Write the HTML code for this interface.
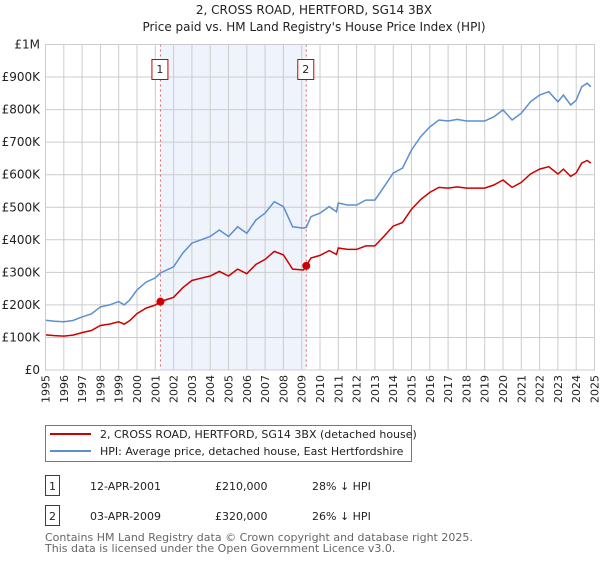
<!DOCTYPE html>
<html><head><meta charset="utf-8"><style>
body{margin:0;background:#fff;font-family:"DejaVu Sans","Liberation Sans",sans-serif;}
svg text{font-family:"DejaVu Sans","Liberation Sans",sans-serif;fill:#222;}
</style></head><body>
<svg id="c" width="600" height="560" xmlns="http://www.w3.org/2000/svg">
<text x="314" y="14" font-size="12" text-anchor="middle">2, CROSS ROAD, HERTFORD, SG14 3BX</text>
<text x="314" y="31" font-size="12" text-anchor="middle">Price paid vs. HM Land Registry's House Price Index (HPI)</text>
<g id="plot"></g>
<g>
<rect x="45.5" y="425.5" width="366" height="36" fill="#fff" stroke="#777"/>
<line x1="50" y1="434" x2="91" y2="434" stroke="#cc0000" stroke-width="2"/>
<text x="100" y="438" font-size="11">2, CROSS ROAD, HERTFORD, SG14 3BX (detached house)</text>
<line x1="50" y1="451" x2="91" y2="451" stroke="#5b8fd0" stroke-width="2"/>
<text x="100" y="455" font-size="11">HPI: Average price, detached house, East Hertfordshire</text>
</g>
<g>
<rect x="45.5" y="475.5" width="14" height="20" fill="#fff" stroke="#cc0000"/>
<text x="52.5" y="490" font-size="11" text-anchor="middle">1</text>
<text x="90" y="490" font-size="11">12-APR-2001</text>
<text x="215" y="490" font-size="11">£210,000</text>
<text x="312" y="490" font-size="11">28% ↓ HPI</text>
<rect x="45.5" y="505.5" width="14" height="20" fill="#fff" stroke="#cc0000"/>
<text x="52.5" y="520" font-size="11" text-anchor="middle">2</text>
<text x="90" y="520" font-size="11">03-APR-2009</text>
<text x="215" y="520" font-size="11">£320,000</text>
<text x="312" y="520" font-size="11">26% ↓ HPI</text>
</g>
<text x="45" y="541" font-size="11" style="fill:#666">Contains HM Land Registry data © Crown copyright and database right 2025.</text>
<text x="45" y="552" font-size="11" style="fill:#666">This data is licensed under the Open Government Licence v3.0.</text>
</svg>
<script>
const hpiYears=[1995,1995.5,1996,1996.5,1997,1997.5,1998,1998.5,1999,1999.3,1999.6,2000,2000.5,2001,2001.28,2002,2002.5,2003,2003.5,2004,2004.5,2005,2005.5,2006,2006.5,2007,2007.5,2008,2008.5,2009.1,2009.25,2009.5,2010,2010.5,2010.9,2011,2011.5,2012,2012.5,2013,2013.5,2014,2014.5,2015,2015.5,2016,2016.5,2017,2017.5,2018,2018.5,2019,2019.5,2020,2020.5,2021,2021.5,2022,2022.5,2023,2023.3,2023.7,2024,2024.3,2024.6,2024.8];
const hpiValues=[153,150,148,152,163,172,194,200,210,200,215,246,270,283,298,317,359,390,400,410,430,410,440,420,461,482,517,502,440,436,438,471,482,502,486,513,507,507,522,522,563,605,620,676,717,747,768,765,770,765,765,765,778,799,768,789,824,845,855,824,845,814,829,870,881,870];
const saleYears=[2001.28,2009.25];
const salePrices=[210,320];
const yTicks=[0,100,200,300,400,500,600,700,800,900,1000];
const yTickLabels=["£0","£100K","£200K","£300K","£400K","£500K","£600K","£700K","£800K","£900K","£1M"];
const xTicks=[1995,1996,1997,1998,1999,2000,2001,2002,2003,2004,2005,2006,2007,2008,2009,2010,2011,2012,2013,2014,2015,2016,2017,2018,2019,2020,2021,2022,2023,2024,2025];

const X0=45.5,X1=594.5,Y0=370,Y1=44.5;
const sx=v=>X0+(v-1995)/30*(X1-X0);
const sy=v=>Y0-v/1000*(Y0-Y1);
const NS="http://www.w3.org/2000/svg";
const g=document.getElementById('plot');
function mk(t,a){const e=document.createElementNS(NS,t);for(const k in a)e.setAttribute(k,a[k]);g.appendChild(e);return e;}
function hpiAt(y){for(let i=0;i<hpiYears.length-1;i++){if(y>=hpiYears[i]&&y<=hpiYears[i+1]){const t=(y-hpiYears[i])/(hpiYears[i+1]-hpiYears[i]);return hpiValues[i]+t*(hpiValues[i+1]-hpiValues[i]);}}return hpiValues[hpiValues.length-1];}

let r=mk('rect',{x:sx(saleYears[0]),y:Y1,width:sx(saleYears[1])-sx(saleYears[0]),height:Y0-Y1,fill:'#eef3fc'});


yTicks.forEach((v,i)=>{
 let l=mk('line',{x1:X0,x2:X1,y1:sy(v),y2:sy(v),stroke:'#cccccc','stroke-width':1});
 
 
 let t=mk('text',{x:40,y:sy(v)+4,'font-size':12,'text-anchor':'end'});t.textContent=yTickLabels[i];
 
 
});
xTicks.forEach(v=>{
 let l=mk('line',{x1:sx(v),x2:sx(v),y1:Y1,y2:Y0,stroke:'#cccccc','stroke-width':1});
 
 
 const tx=sx(v)+4,ty=375;
 let t=mk('text',{x:tx,y:ty,'font-size':11,'text-anchor':'end',transform:'rotate(-90 '+tx+' '+ty+')'});t.textContent=v;
 
 
});
saleYears.forEach((yr,i)=>{
 let l=mk('line',{x1:sx(yr),x2:sx(yr),y1:Y1,y2:Y0,stroke:'#e06060','stroke-dasharray':'2,3','stroke-width':1});
 
 
 let b=mk('rect',{x:sx(yr)-8.5,y:59.5,width:16,height:20,fill:'#fff',stroke:'#cc0000'});
 
 
 let t=mk('text',{x:sx(yr)-0.5,y:73,'font-size':11,'text-anchor':'middle'});t.textContent=String(i+1);
 
 
});
let hp=hpiYears.map((y,i)=>sx(y).toFixed(1)+','+sy(hpiValues[i]).toFixed(1)).join(' ');
let hl=mk('polyline',{points:hp,fill:'none',stroke:'#5b8fd0','stroke-width':1.5});


let rp=hpiYears.map((y,i)=>{const k=y<saleYears[1]?0:1;const v=salePrices[k]*hpiValues[i]/hpiAt(saleYears[k]);return sx(y).toFixed(1)+','+sy(v).toFixed(1);}).join(' ');
let rl=mk('polyline',{points:rp,fill:'none',stroke:'#cc0000','stroke-width':1.5});


saleYears.forEach((yr,i)=>{
 let c=mk('circle',{cx:sx(yr),cy:sy(salePrices[i]),r:4,fill:'#cc0000'});
 
 
});
let ax=mk('rect',{x:X0,y:Y1,width:X1-X0,height:Y0-Y1,fill:'none',stroke:'#cccccc'});


</script>
</body></html>
